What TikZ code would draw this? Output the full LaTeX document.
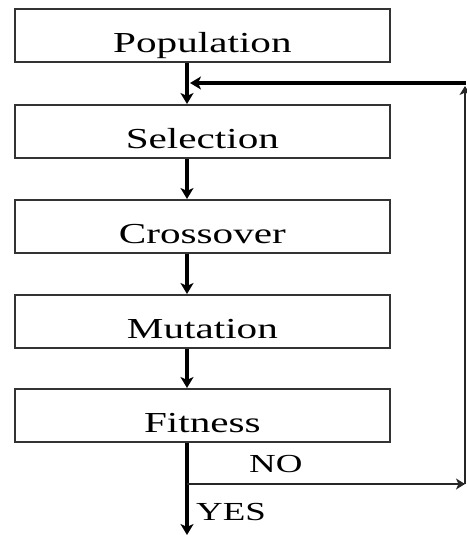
\documentclass[tikz,border=0pt]{standalone}
\usepackage{fontspec}
\setmainfont{Liberation Serif}[FakeStretch=1.42]
\usetikzlibrary{arrows.meta}
\begin{document}
\begin{tikzpicture}[x=1pt,y=-1pt,
  stagebox/.style={draw=black!80,line width=1.8pt,rectangle,inner sep=0pt,
    minimum width=375pt,text height=44pt,text depth=9pt,anchor=north west,
    font=\fontsize{29}{30}\selectfont},
  flow/.style={line width=3.2pt,-{Stealth[length=11pt,width=13pt,inset=3pt]}},
  thinflow/.style={line width=2pt,black!85,-{Stealth[length=9pt,width=11pt,inset=2.5pt]}},
  lab/.style={inner sep=0pt,anchor=base west,font=\fontsize{26}{28}\selectfont}]
\useasboundingbox (0,0) rectangle (466,535);
\node[stagebox] (pop) at (14,8) {Population};
\node[stagebox] (sel) at (14,104) {Selection};
\node[stagebox] (cro) at (14,199) {Crossover};
\node[stagebox] (mut) at (14,294) {Mutation};
\node[stagebox] (fit) at (14,388) {Fitness};
\coordinate (spine) at (187,0);
\coordinate (fb) at (190,83);
\coordinate (corner) at (466,83);
\coordinate (nostart) at (187,484);
\coordinate (noend) at (465,484);
\coordinate (upend) at (465,86);
\coordinate (yesend) at (187,535);
\draw[flow] (pop.south -| spine) -- (sel.north -| spine);
\draw[flow] (sel.south -| spine) -- (cro.north -| spine);
\draw[flow] (cro.south -| spine) -- (mut.north -| spine);
\draw[flow] (mut.south -| spine) -- (fit.north -| spine);
\draw[flow] (fit.south -| spine) -- (yesend);
\draw[thinflow] (nostart) -- (noend);
\draw[thinflow] (noend) -- (upend);
\draw[line width=3.4pt,-{Stealth[length=11pt,width=13pt,inset=3pt]}] (corner) -- (fb);
\node[lab] (no) at (249,472) {NO};
\node[lab] (yes) at (196,520) {YES};
\end{tikzpicture}
\end{document}
